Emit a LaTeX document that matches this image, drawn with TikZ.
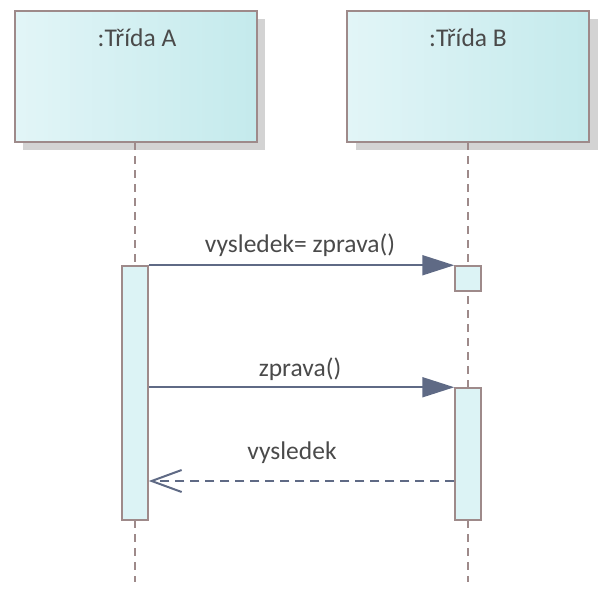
\documentclass[tikz,border=0pt]{standalone}
\usepackage{fontspec}
\setmainfont{Carlito}
\usetikzlibrary{arrows.meta}
\definecolor{brd}{HTML}{9E8A8A}
\definecolor{arr}{HTML}{5F6A85}
\definecolor{txt}{HTML}{4A4A4A}
\definecolor{fillL}{HTML}{E2F5F7}
\definecolor{fillR}{HTML}{C4EAEC}
\definecolor{actfill}{HTML}{DCF3F5}
\definecolor{shd}{HTML}{D3D3D3}
\tikzset{
  objbox/.style={draw=brd, line width=2pt, left color=fillL, right color=fillR, minimum width=242pt, minimum height=131pt, inner sep=0pt},
  shadowbox/.style={fill=shd, minimum width=242pt, minimum height=131pt, inner sep=0pt},
  actbox/.style={draw=brd, line width=1.5pt, fill=actfill, minimum width=26pt, inner sep=0pt},
  lifeline/.style={draw=brd, line width=1.5pt, dash pattern=on 8pt off 6pt},
  msg/.style={draw=arr, line width=2pt, -{Triangle[length=32pt,width=20pt]}},
  ret/.style={draw=arr, line width=2pt, dash pattern=on 9pt off 6pt, -{Straight Barb[length=30pt,width=22pt,line width=2pt]}},
  lbl/.style={text=txt, font=\fontsize{25.5}{30}\selectfont, inner sep=0pt},
}
\begin{document}
\begin{tikzpicture}[x=1pt,y=-1pt]
\useasboundingbox (0,0) rectangle (608,592);
% shadows
\node[shadowbox] (shA) at (144,84.5) {};
\node[shadowbox] (shB) at (477,84.5) {};
% objects
\node[objbox] (A) at (136,76.5) {};
\node[objbox] (B) at (468,76.5) {};
\node[lbl] (tA) at (137,38) {:Třída A};
\node[lbl] (tB) at (468,38) {:Třída B};
% lifeline ends
\coordinate (Aend) at (135,582);
\coordinate (Bend) at (468,582);
\path[lifeline] (135,142) -- (Aend);
\path[lifeline] (468,142) -- (Bend);
% activations
\node[actbox, minimum height=254pt] (actA) at (135,393) {};
\node[actbox, minimum height=25pt] (actB1) at (468,278.5) {};
\node[actbox, minimum height=132pt] (actB2) at (468,454) {};
% messages
\path[msg] (actA.north east) -- (actB1.north west);
\node[lbl] (m1) at (300,245) {vysledek= zprava()};
\path[msg] (actA.east |- actB2.north) -- (actB2.north west);
\node[lbl] (m2) at (300,369) {zprava()};
\coordinate (r1) at (actB2.west |- 0,481);
\coordinate (r2) at (actA.east |- 0,481);
\path[ret] (r1) -- (r2);
\node[lbl] (m3) at (292,453) {vysledek};
\end{tikzpicture}
\end{document}
